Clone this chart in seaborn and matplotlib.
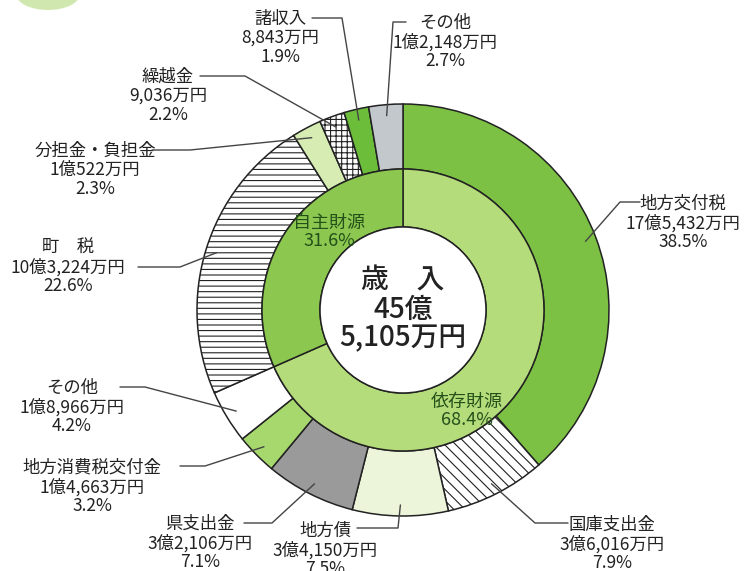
import numpy as np
import matplotlib
matplotlib.use('Agg')
import matplotlib.pyplot as plt
from matplotlib.patches import Circle, Ellipse
import seaborn as sns

# 歳入 (万円) - clockwise from 12 o'clock
items = ['地方交付税', '国庫支出金', '地方債', '県支出金', '地方消費税交付金', 'その他',
         '町　税', '分担金・負担金', '繰越金', '諸収入', 'その他']
amounts = [175432, 36016, 34150, 32106, 14663, 18966,
           103224, 10522, 9036, 8843, 12148]
amount_text = ['17億5,432万円', '3億6,016万円', '3億4,150万円', '3億2,106万円', '1億4,663万円',
               '1億8,966万円', '10億3,224万円', '1億522万円', '9,036万円', '8,843万円', '1億2,148万円']
pct_text = ['38.5%', '7.9%', '7.5%', '7.1%', '3.2%', '4.2%',
            '22.6%', '2.3%', '2.2%', '1.9%', '2.7%']
n_izon = 6  # first 6 items = 依存財源
groups = ['依存財源', '自主財源']
group_pct = ['68.4%', '31.6%']
total_text = '歳　入\n45億\n5,105万円'

outer_colors = ['#7cc144', '#ffffff', '#ecf4d9', '#9a9a9a', '#a6d86e', '#ffffff',
                '#ffffff', '#d6ecb3', '#ffffff', '#6cbd3a', '#c3c8cc']
outer_hatch = ['', '\\\\\\', '', '', '', '', '---', '', '+++', '', '']
inner_colors = ['#b5dc7a', '#8cc850']

sns.set_theme(style='white')
plt.rcParams['font.family'] = ['Noto Sans CJK JP', 'DejaVu Sans']
plt.rcParams['hatch.linewidth'] = 0.8

W, H = 745, 571
fig = plt.figure(figsize=(W / 100, H / 100), dpi=100)
ax = fig.add_axes([0, 0, 1, 1])


def P(x, y):
    # pixel coords (y down) -> data coords (y up)
    return x, H - y


cx, cy = P(403, 310)
R_out, R_mid, R_in = 206, 141, 83

wedges, _ = ax.pie(amounts, radius=R_out, center=(cx, cy), startangle=90, counterclock=False,
                   colors=outer_colors, hatch=outer_hatch,
                   wedgeprops=dict(width=R_out - R_mid, edgecolor='#222222', linewidth=1.1))
inner = [sum(amounts[:n_izon]), sum(amounts[n_izon:])]
ax.pie(inner, radius=R_mid, center=(cx, cy), startangle=90, counterclock=False,
       colors=inner_colors,
       wedgeprops=dict(width=R_mid - R_in, edgecolor='#222222', linewidth=1.1))
ax.add_patch(Circle((cx, cy), R_in, facecolor='white', edgecolor='#222222', lw=1.1, zorder=5))

ax.text(cx, cy + 1, total_text, ha='center', va='center', fontsize=20, linespacing=1.0,
        color='#222222', fontweight='medium', zorder=6)

# inner ring labels
inner_pos = [(467, 411), (329, 232)]
for g, p, pos in zip(groups, group_pct, inner_pos):
    ax.text(*P(*pos), f'{g}\n{p}', ha='center', va='center', fontsize=13,
            color='#24501a', linespacing=1.0, zorder=6)

# outer labels: text center, line start, elbow (pixels)
label_pos = [(683, 223), (612, 544), (325, 550), (200, 543), (92, 487), (72, 407),
             (68, 267), (95, 170), (168, 96), (280, 38), (445, 42)]
line_start = [(640, 202), (568, 523), (357, 528), (244, 523), (180, 466), (120, 387),
              (138, 267), (152, 150), (200, 76), (312, 18), (406, 22)]
line_elbow = [(620, 202), (535, 523), (398, 528), (272, 523), (205, 466), (145, 387),
              (180, 267), (190, 150), (245, 76), (342, 18), (393, 22)]

for i, w in enumerate(wedges):
    txt = f'{items[i]}\n{amount_text[i]}\n{pct_text[i]}'
    ax.text(*P(*label_pos[i]), txt, ha='center', va='center', fontsize=12.5,
            linespacing=1.08, color='#222222')
    a = np.deg2rad((w.theta1 + w.theta2) / 2)
    ex, ey = cx + 195 * np.cos(a), cy + 195 * np.sin(a)
    sx, sy = P(*line_start[i])
    bx, by = P(*line_elbow[i])
    ax.plot([sx, bx, ex], [sy, by, ey], color='#444444', lw=1.0, zorder=7)

# decorative green blob top-left
ax.add_patch(Ellipse(P(48, -6), 64, 32, facecolor='#cbe6a8', edgecolor='none', alpha=0.9))

ax.set_xlim(0, W)
ax.set_ylim(0, H)
ax.set_aspect('equal')
ax.axis('off')

fig.savefig('out.png', dpi=100)
